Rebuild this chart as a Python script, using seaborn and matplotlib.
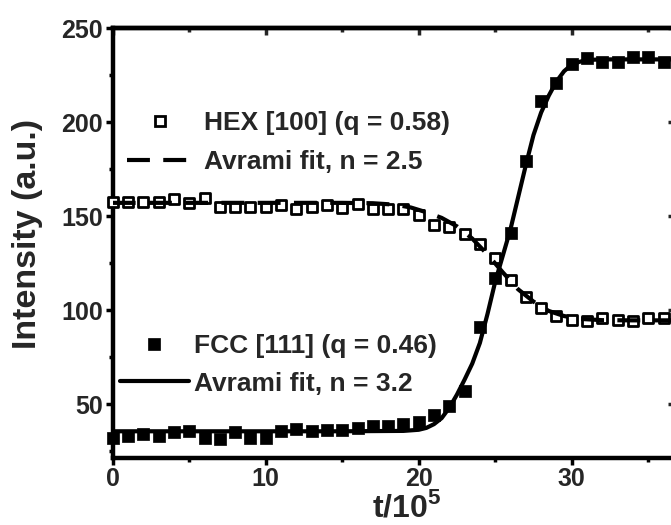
import numpy as np
import pandas as pd
import matplotlib
matplotlib.use("Agg")
import matplotlib.pyplot as plt
import seaborn as sns
from matplotlib.lines import Line2D
from matplotlib.ticker import MultipleLocator

# ---------------- data ----------------
t_points = list(range(0, 37))
hex_vals = [157.5, 157.5, 157.5, 157.5, 159.0, 157.0, 159.5, 155.0, 155.0, 155.0,
            155.0, 156.0, 153.5, 155.0, 156.0, 154.0, 156.5, 153.5, 153.5, 153.5,
            150.5, 145.0, 144.0, 140.5, 135.0, 127.5, 116.0, 107.0, 101.0, 97.0,
            94.5, 94.0, 95.5, 94.5, 94.0, 95.5, 95.5]
fcc_vals = [32.0, 33.0, 34.0, 33.0, 35.0, 35.5, 32.0, 31.5, 35.0, 32.0,
            32.0, 35.5, 36.5, 35.5, 36.0, 36.0, 37.5, 38.5, 38.5, 39.5,
            40.5, 44.0, 49.0, 57.0, 91.0, 117.0, 141.0, 179.0, 211.0, 221.0,
            231.0, 234.0, 232.0, 232.0, 234.5, 234.5, 232.0]

hex_fit_t = [0, 5, 10, 15, 17, 18.5, 19.5, 20.5, 21.5, 22.5, 23.5, 24.5, 25.5,
             26.5, 27.5, 28.5, 29.5, 30.5, 32, 34, 37]
hex_fit_y = [157, 157, 157, 157, 156.8, 156, 154.5, 152, 149, 144.5, 138, 129.5,
             120, 111, 104.5, 99.5, 96.8, 95.3, 94.6, 94.5, 94.5]

fcc_fit_t = [0, 5, 10, 15, 19, 20, 20.5, 21, 21.5, 22, 22.5, 23, 23.5, 24, 24.5,
             25, 25.5, 26, 26.5, 27, 27.5, 28, 28.5, 29, 29.5, 30, 30.5, 31, 32,
             34, 37]
fcc_fit_y = [35.5, 35.5, 35.5, 35.5, 35.7, 36.3, 37.3, 39.3, 42.5, 48, 55, 63,
             71.5, 82.5, 98, 115, 129, 143, 160, 177, 193, 205, 214, 221.5, 227,
             230.5, 232, 233, 233.3, 233.3, 233.3]

hex_label = "HEX [100] (q = 0.58)"
hex_fit_label = "Avrami fit, n = 2.5"
fcc_label = "FCC [111] (q = 0.46)"
fcc_fit_label = "Avrami fit, n = 3.2"
x_label = r"t/10$^{\mathbf{5}}$"
y_label = "Intensity (a.u.)"

# ---------------- style ----------------
sns.set_style("white")
plt.rcParams["font.family"] = ["Liberation Sans", "DejaVu Sans"]
plt.rcParams["font.weight"] = "bold"
plt.rcParams["mathtext.fontset"] = "custom"
plt.rcParams["mathtext.rm"] = "Liberation Sans:bold"
plt.rcParams["mathtext.bf"] = "Liberation Sans:bold"

W, H = 671, 525
fig = plt.figure(figsize=(W / 100, H / 100), dpi=100)
ax_l, ax_r, ax_t, ax_b = 112.7, 674.5, 28.0, 457.6
ax = fig.add_axes([ax_l / W, 1 - ax_b / H, (ax_r - ax_l) / W, (ax_b - ax_t) / H])

df_pts = pd.DataFrame({"t": t_points, "hex": hex_vals, "fcc": fcc_vals})
df_hfit = pd.DataFrame({"t": hex_fit_t, "y": hex_fit_y})
df_ffit = pd.DataFrame({"t": fcc_fit_t, "y": fcc_fit_y})

sns.scatterplot(data=df_pts, x="t", y="hex", marker="s", s=56, facecolor="white",
                edgecolor="black", linewidth=2.0, ax=ax, clip_on=False, zorder=3)
sns.scatterplot(data=df_pts, x="t", y="fcc", marker="s", s=68, color="black",
                edgecolor="black", linewidth=0.5, ax=ax, clip_on=False, zorder=3)
sns.lineplot(data=df_hfit, x="t", y="y", color="black", linewidth=3, ax=ax,
             zorder=4)
ax.lines[-1].set_dashes([5.5, 3.2])
sns.lineplot(data=df_ffit, x="t", y="y", color="black", linewidth=3, ax=ax,
             zorder=4)

ax.set_xlim(0, (ax_r - ax_l) / 15.3)
ax.set_ylim(21.5, 250)
ax.xaxis.set_major_locator(MultipleLocator(10))
ax.xaxis.set_minor_locator(MultipleLocator(5))
ax.yaxis.set_major_locator(MultipleLocator(50))
ax.yaxis.set_minor_locator(MultipleLocator(25))

for s in ax.spines.values():
    s.set_linewidth(3.2)
    s.set_color("black")
ax.tick_params(axis="both", which="major", direction="out", length=5, width=2.5,
               color="black", labelsize=18, pad=2, top=False, right=False)
ax.tick_params(axis="both", which="minor", direction="out", length=3, width=2.5,
               color="black", top=False, right=False)
ax.tick_params(axis="both", which="both", bottom=True, left=True)
for lab in ax.get_xticklabels() + ax.get_yticklabels():
    lab.set_fontweight("bold")

# mirrored top/right ticks pointing inwards
sec_x = ax.secondary_xaxis("top")
sec_x.xaxis.set_major_locator(MultipleLocator(10))
sec_x.xaxis.set_minor_locator(MultipleLocator(5))
sec_x.tick_params(axis="x", which="major", direction="in", length=5, width=2.5,
                  labeltop=False)
sec_x.tick_params(axis="x", which="minor", direction="in", length=3, width=2.5)
sec_x.spines["top"].set_linewidth(3.2)
sec_y = ax.secondary_yaxis("right")
sec_y.yaxis.set_major_locator(MultipleLocator(50))
sec_y.yaxis.set_minor_locator(MultipleLocator(25))
sec_y.tick_params(axis="y", which="major", direction="in", length=5, width=2.5,
                  labelright=False)
sec_y.tick_params(axis="y", which="minor", direction="in", length=3, width=2.5)
sec_y.spines["right"].set_linewidth(3.2)

ax.set_xlabel(x_label, fontsize=23, fontweight="bold")
ax.xaxis.label.set_verticalalignment("baseline")
ax.xaxis.set_label_coords(0.523, -(516.5 - ax_b) / (ax_b - ax_t))
ax.set_ylabel(y_label, fontsize=24.5, fontweight="bold")
ax.yaxis.set_label_coords(-0.124, 0.52)

# legends
h_hex = Line2D([], [], marker="s", ls="none", mfc="white", mec="black", mew=2.0, ms=7.5)
h_hfit = Line2D([], [], color="black", lw=3, dashes=[5.5, 3.2])
h_fcc = Line2D([], [], marker="s", ls="none", mfc="black", mec="black", mew=0.5, ms=8.2)
h_ffit = Line2D([], [], color="black", lw=3)

leg1 = ax.legend(handles=[h_hex, h_hfit], labels=[hex_label, hex_fit_label],
                 loc="upper left", bbox_to_anchor=(0.025, 0.807), frameon=False,
                 fontsize=19, borderpad=0, borderaxespad=0, handlelength=2.5,
                 handletextpad=0.42, labelspacing=0.57)
for txt in leg1.get_texts():
    txt.set_fontweight("bold")
ax.add_artist(leg1)
leg2 = ax.legend(handles=[h_fcc, h_ffit], labels=[fcc_label, fcc_fit_label],
                 loc="upper left", bbox_to_anchor=(0.013, 0.288), frameon=False,
                 fontsize=19, borderpad=0, borderaxespad=0, handlelength=2.6,
                 handletextpad=0.22, labelspacing=0.52)
for txt in leg2.get_texts():
    txt.set_fontweight("bold")

fig.savefig("out.png", dpi=100)
